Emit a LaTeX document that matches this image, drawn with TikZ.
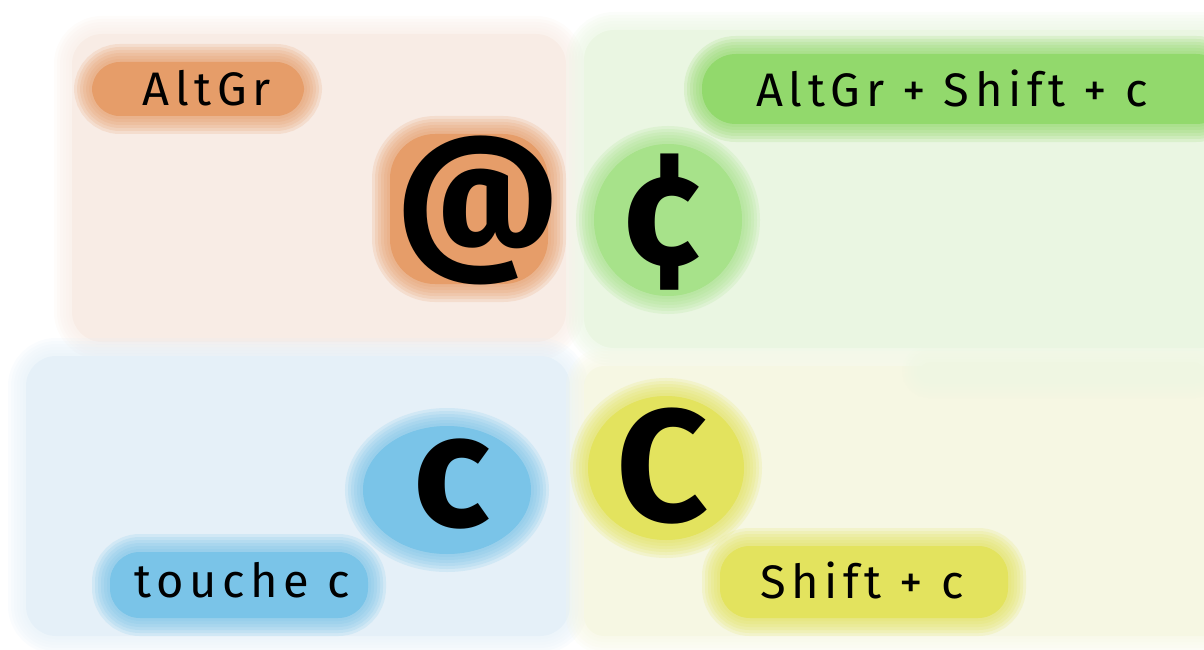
\documentclass[tikz,border=0pt]{standalone}
\usepackage{fontspec}
\setmainfont{Fira Sans}
\usetikzlibrary{positioning}

\definecolor{peachbg}{HTML}{F8ECE5}
\definecolor{greenbg}{HTML}{EAF6E2}
\definecolor{bluebg}{HTML}{E5F0F8}
\definecolor{yellowbg}{HTML}{F6F7E3}
\definecolor{altorange}{HTML}{E69D69}
\definecolor{keygreen}{HTML}{92D96C}
\definecolor{lightgreen}{HTML}{A7E28A}
\definecolor{keyblue}{HTML}{7AC4E8}
\definecolor{keyyellow}{HTML}{E3E35E}

% soft-edged fill: solid core plus fading strokes
\newcommand\smudge[2]{%
  \fill[#1] #2;
  \foreach \w in {6,12,18,24,30,36}{\draw[#1,opacity=.18,line width=\w] #2;}}

\tikzset{
  keytext/.style={font=\fontsize{47}{52}\selectfont\addfontfeature{LetterSpace=12}},
  glyph/.style={font=\fontsize{160}{160}\selectfont\bfseries}
}

\begin{document}
\begin{tikzpicture}[x=1pt,y=-1pt]
  \useasboundingbox (0,0) rectangle (1204,650);
  % quadrants
  \smudge{peachbg,rounded corners=30}{(72,34) rectangle (566,342)}
  \smudge{greenbg,rounded corners=30}{(584,30) rectangle (1230,348)}
  \smudge{bluebg,rounded corners=30}{(26,356) rectangle (570,636)}
  \smudge{yellowbg,rounded corners=20}{(584,366) rectangle (1230,636)}
  \smudge{greenbg!60!yellowbg,rounded corners=10}{(920,362) rectangle (1204,380)}
  % patches
  \smudge{altorange,rounded corners=28}{(92,62) rectangle (304,116)}
  \smudge{altorange,rounded corners=45}{(390,134) rectangle (548,284)}
  \smudge{keygreen,rounded corners=34}{(702,54) rectangle (1230,124)}
  \smudge{lightgreen}{(668,220) ellipse [x radius=74, y radius=76]}
  \smudge{keyblue}{(447,490) ellipse [x radius=84, y radius=64]}
  \smudge{keyblue,rounded corners=30}{(110,552) rectangle (368,618)}
  \smudge{keyyellow}{(666,468) ellipse [x radius=78, y radius=72]}
  \smudge{keyyellow,rounded corners=30}{(720,546) rectangle (1008,618)}
  % texts
  \node[keytext] (altgr) at (207,88) {AltGr};
  \node[keytext] (combo) at (952,88) {AltGr + Shift + c};
  \node[keytext] (touche) at (242,580) {touche c};
  \node[keytext] (shift) at (862,580) {Shift + c};
  \node[glyph] (at) at (478,210) {@};
  \node[glyph] (cent) at (662,222) {¢};
  \node[glyph] (low) at (452,484) {c};
  \node[glyph] (up) at (662,466) {C};
\end{tikzpicture}
\end{document}
